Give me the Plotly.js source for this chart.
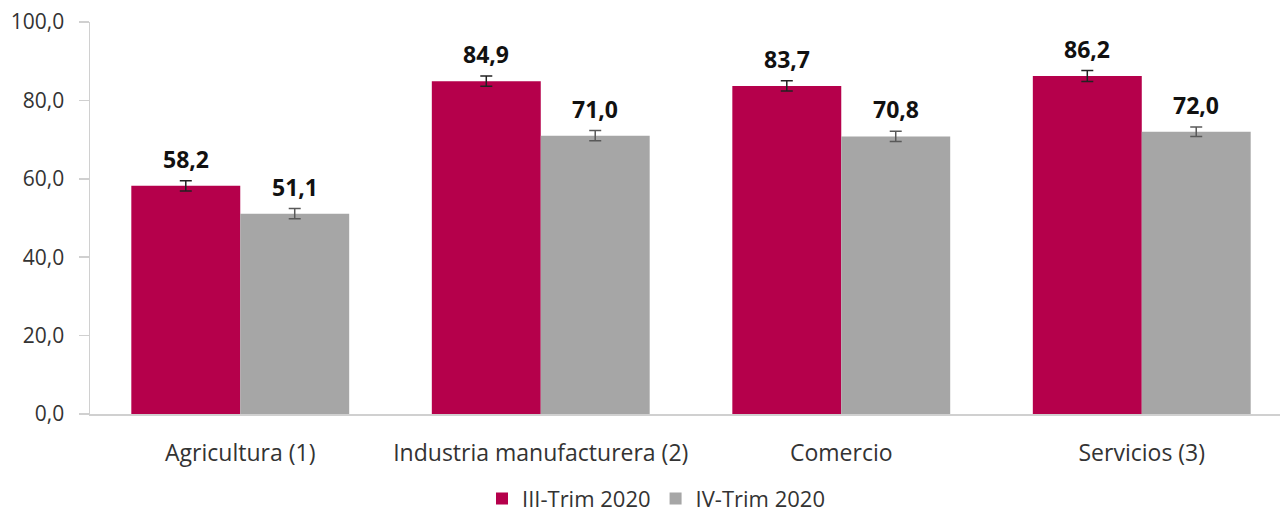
<!DOCTYPE html>
<html>
<head>
<meta charset="utf-8">
<script src="https://cdn.plot.ly/plotly-3.0.1.min.js"></script>
<style>
  html, body { margin: 0; padding: 0; background: #fff; }
  #chart { width: 1280px; height: 514px; }
</style>
</head>
<body>
<div id="chart"></div>
<script>
// Sectors and values
const categories = ['Agricultura (1)', 'Industria manufacturera (2)', 'Comercio', 'Servicios (3)'];
const trim3Values = [58.2, 84.9, 83.7, 86.2];
const trim4Values = [51.1, 71.0, 70.8, 72.0];
// half-width of the error bars (estimated)
const trim3Errors = [1.3, 1.3, 1.3, 1.4];
const trim4Errors = [1.3, 1.3, 1.3, 1.2];
const seriesNames = ['III-Trim 2020', 'IV-Trim 2020'];

const fontFamily = '"Open Sans", "Noto Sans", sans-serif';

const trace1 = {
    type: 'bar',
    name: seriesNames[0],
    x: categories,
    y: trim3Values,
    marker: { color: '#B5004B' },
    error_y: { type: 'data', array: trim3Errors, visible: true, color: '#222222', thickness: 1.5, width: 6 },
    hoverinfo: 'none'
};

const trace2 = {
    type: 'bar',
    name: seriesNames[1],
    x: categories,
    y: trim4Values,
    marker: { color: '#A6A6A6' },
    error_y: { type: 'data', array: trim4Errors, visible: true, color: '#595959', thickness: 1.5, width: 6 },
    hoverinfo: 'none'
};

// value labels above the error bars
function fmt(v) {
    return v.toFixed(1).replace('.', ',');
}
const annotations = [];
categories.forEach((cat, i) => {
    annotations.push({
        x: cat, y: trim3Values[i] + trim3Errors[i], xref: 'x', yref: 'y',
        xshift: -54.5, yshift: 4, yanchor: 'bottom', showarrow: false,
        text: '<b>' + fmt(trim3Values[i]) + '</b>',
        font: { family: fontFamily, size: 23, color: '#111111' }
    });
    annotations.push({
        x: cat, y: trim4Values[i] + trim4Errors[i], xref: 'x', yref: 'y',
        xshift: 54.5, yshift: 4, yanchor: 'bottom', showarrow: false,
        text: '<b>' + fmt(trim4Values[i]) + '</b>',
        font: { family: fontFamily, size: 23, color: '#111111' }
    });
});

const layout = {
    width: 1280,
    height: 514,
    margin: { l: 90, r: 0, t: 22, b: 100 },
    paper_bgcolor: '#ffffff',
    plot_bgcolor: '#ffffff',
    separators: ',.',
    barmode: 'group',
    bargap: 0.275,
    bargroupgap: 0,
    font: { family: fontFamily, size: 21, color: '#333333' },
    xaxis: {
        type: 'category',
        range: [-0.5, 3.46],
        automargin: false,
        showline: true,
        linecolor: '#D0D0D0',
        linewidth: 1.5,
        ticks: 'outside',
        ticklen: 18,
        tickcolor: 'rgba(0,0,0,0)',
        showgrid: false,
        zeroline: false,
        tickfont: { family: fontFamily, size: 23, color: '#333333' }
    },
    yaxis: {
        range: [0, 100],
        automargin: false,
        tickvals: [0, 20, 40, 60, 80, 100],
        tickformat: '.1f',
        showline: true,
        linecolor: '#D0D0D0',
        linewidth: 1.5,
        ticks: 'outside',
        ticklen: 10,
        tickcolor: '#D0D0D0',
        tickwidth: 1.5,
        ticklabelstandoff: 10,
        showgrid: false,
        zeroline: false,
        tickfont: { family: fontFamily, size: 21, color: '#333333' }
    },
    showlegend: true,
    legend: {
        orientation: 'h',
        x: 0.5125,
        xref: 'container',
        xanchor: 'center',
        y: 0.03,
        yref: 'container',
        yanchor: 'middle',
        font: { family: fontFamily, size: 22, color: '#333333' },
        traceorder: 'normal'
    },
    annotations: annotations
};

Plotly.newPlot('chart', [trace1, trace2], layout, { displayModeBar: false, staticPlot: true });
</script>
</body>
</html>
